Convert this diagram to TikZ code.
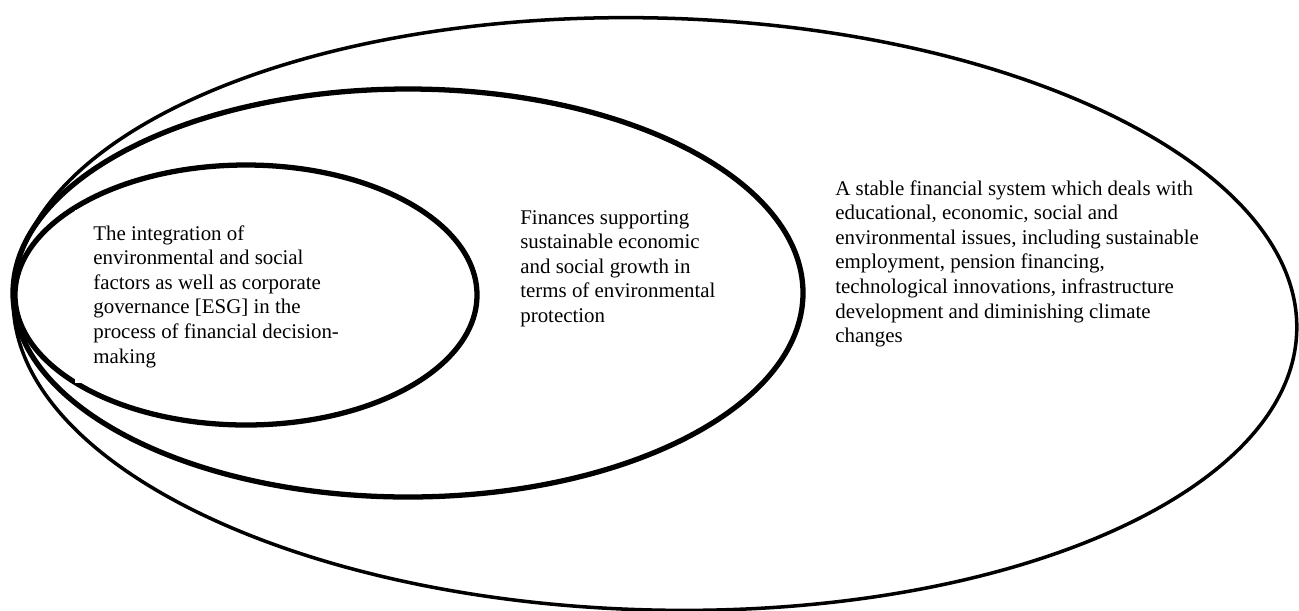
\documentclass[tikz,border=0pt]{standalone}
\usepackage{fontspec}
\setmainfont{Liberation Serif}
\usetikzlibrary{positioning}
\def\outerellipse{(655,314) ellipse (642 and 296)}
\def\middleellipse{(408,293) ellipse (395 and 204)}
\def\innerellipse{(246,295) ellipse (231 and 130)}
\tikzset{circletext/.style={align=left, font=\fontsize{11.9}{14}\selectfont,
    inner xsep=0.36cm, inner ysep=0.3cm, anchor=north west}}

\begin{document}
\begin{tikzpicture}[x=0.02cm, y=-0.02cm]
        \useasboundingbox (0,0) rectangle (1299,610);
        \draw [line width=2pt, rotate around={-1.5:(655,314)}] \outerellipse;
        \draw [line width=3pt] \middleellipse;
        \draw [line width=3pt] \innerellipse;

        % texts of the three circles
        \node [circletext, fill=white] (esg) at (75,210) {The integration of\\
            environmental and social\\
            factors as well as corporate\\
            governance [ESG] in the\\
            process of financial decision-\\
            making};
        \node [circletext] (finances) at (502,195) {Finances supporting\\
            sustainable economic\\
            and social growth in\\
            terms of environmental\\
            protection};
        \node [circletext] (system) at (817,165) {A stable financial system which deals with\\
            educational, economic, social and\\
            environmental issues, including sustainable\\
            employment, pension financing,\\
            technological innovations, infrastructure\\
            development and diminishing climate\\
            changes};
\end{tikzpicture}
\end{document}
